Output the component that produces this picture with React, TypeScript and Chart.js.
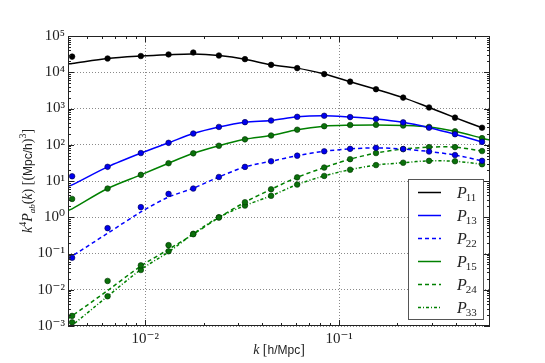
import { useEffect, useRef } from 'react';
import { Chart, registerables } from 'chart.js';

Chart.register(...registerables);

// ---- data (k in h/Mpc, values k^4 P(k)) ----
const kPoints = [0.0042, 0.0064, 0.0095, 0.0132, 0.0177, 0.024, 0.0327, 0.0446, 0.0608, 0.0838, 0.114, 0.155, 0.214, 0.291, 0.396, 0.546];
const p11Points = [27000, 24000, 28000, 31000, 35000, 29000, 23000, 16000, 13000, 8900, 5500, 3400, 2000, 1070, 560, 295];
const p13Points = [13.5, 24.6, 59, 113, 204, 310, 420, 465, 590, 630, 580, 515, 415, 295, 195, 120];
const p22Points = [0.076, 0.5, 1.9, 4.4, 6.2, 12.9, 24.5, 35, 50, 66, 77, 82, 76, 65, 52, 36];
const p15Points = [3.2, 6.2, 14.8, 31, 58, 94, 141, 180, 260, 325, 350, 355, 340, 310, 235, 152];
const p24Points = [0.0019, 0.0175, 0.047, 0.17, 0.34, 0.98, 2.6, 5.9, 12.6, 23.5, 40, 59, 76, 86, 86, 67];
const p33Points = [0.00126, 0.0066, 0.035, 0.115, 0.35, 1.0, 2.1, 3.9, 8.0, 13.8, 20.5, 27.5, 32, 36, 35, 29];

const kLine = [0.004, 0.0042, 0.0064, 0.0095, 0.0132, 0.0177, 0.024, 0.0327, 0.0446, 0.0608, 0.0838, 0.114, 0.155, 0.214, 0.291, 0.396, 0.546];
const kLineLong = [0.004, 0.0042, 0.0064, 0.0095, 0.0132, 0.0177, 0.024, 0.0327, 0.0446, 0.0608, 0.0838, 0.114, 0.155, 0.214, 0.291, 0.396, 0.546, 0.6];
const p11Line = [17000, 17500, 24000, 28000, 30500, 32000, 29000, 23000, 16000, 13000, 8900, 5500, 3400, 2000, 1070, 560, 295];
const p13Line = [7.2, 7.8, 24.6, 59, 113, 204, 310, 420, 470, 590, 630, 580, 515, 415, 295, 195, 120];
const p22Line = [0.074, 0.085, 0.36, 1.4, 3.6, 6.3, 12.9, 24.5, 35, 50, 66, 77, 82, 76, 65, 52, 36];
const p15Line = [1.55, 1.7, 6.2, 14.8, 31, 58, 94, 141, 180, 260, 325, 345, 352, 340, 310, 235, 152, 134];
const p24Line = [0.0016, 0.0019, 0.0095, 0.045, 0.13, 0.34, 0.98, 2.6, 5.9, 12.6, 23.5, 40, 59, 76, 86, 86, 67];
const p33Line = [0.00092, 0.00105, 0.0066, 0.036, 0.11, 0.35, 1.0, 2.1, 3.9, 8.0, 13.8, 20.5, 27.5, 32, 36, 35, 29];

const xTickValues = [0.01, 0.1];
const xTickLabels = ['10⁻²', '10⁻¹'];
const yTickValues = [1e-3, 1e-2, 1e-1, 1, 10, 100, 1e3, 1e4, 1e5];
const yTickLabels = ['10⁻³', '10⁻²', '10⁻¹', '10⁰', '10¹', '10²', '10³', '10⁴', '10⁵'];

const legendSubs = ['11', '13', '22', '15', '24', '33'];

// ---- styles ----
const BLACK = '#000000';
const BLUE = '#0000ff';
const GREEN = '#008000';
const DASH = [4, 3];
const DASHDOT = [3, 2, 1, 2];
const SERIF = '"Liberation Serif", "DejaVu Serif", serif';
const SANS = '"Liberation Sans", "DejaVu Sans", sans-serif';

const seriesStyles = [
  { color: BLACK, dash: [] as number[], fill: '#000000', edge: '#000000' },
  { color: BLUE, dash: [] as number[], fill: '#0000ee', edge: '#000044' },
  { color: BLUE, dash: DASH, fill: '#0000ee', edge: '#000044' },
  { color: GREEN, dash: [] as number[], fill: '#0a700a', edge: '#003300' },
  { color: GREEN, dash: DASH, fill: '#0a700a', edge: '#003300' },
  { color: GREEN, dash: DASHDOT, fill: '#0a700a', edge: '#003300' },
];

const pts = (ks: number[], vs: number[]) => vs.map((v, i) => ({ x: ks[i], y: v }));

type Seg = { t: string; f: string; dy: number };

function drawSegs(ctx: CanvasRenderingContext2D, segs: Seg[], cx: number, cy: number, rot: number) {
  ctx.save();
  ctx.translate(cx, cy);
  ctx.rotate(rot);
  let total = 0;
  for (const s of segs) {
    ctx.font = s.f;
    total += ctx.measureText(s.t).width;
  }
  let x = -total / 2;
  ctx.fillStyle = '#222';
  ctx.textBaseline = 'alphabetic';
  ctx.textAlign = 'left';
  for (const s of segs) {
    ctx.font = s.f;
    ctx.fillText(s.t, x, 5 + s.dy);
    x += ctx.measureText(s.t).width;
  }
  ctx.restore();
}

const framePlugin = {
  id: 'mplFrame',
  afterDraw(chart: any) {
    const { ctx, chartArea: a, scales } = chart;
    const xs = scales.x;
    const ys = scales.y;
    ctx.save();
    // frame
    ctx.strokeStyle = '#222';
    ctx.lineWidth = 1;
    ctx.setLineDash([]);
    ctx.strokeRect(a.left + 0.5, a.top + 0.5, a.right - a.left - 1, a.bottom - a.top - 1);
    // inside ticks
    ctx.beginPath();
    for (let n = -4; n <= 5; n++) {
      for (let m = 1; m <= 9; m++) {
        const v = m * Math.pow(10, n);
        const len = m === 1 ? 6 : 3;
        if (v >= xs.min && v <= xs.max) {
          const px = Math.round(xs.getPixelForValue(v)) + 0.5;
          ctx.moveTo(px, a.bottom);
          ctx.lineTo(px, a.bottom - len);
          ctx.moveTo(px, a.top);
          ctx.lineTo(px, a.top + len);
        }
        if (v >= ys.min && v <= ys.max) {
          const py = Math.round(ys.getPixelForValue(v)) + 0.5;
          ctx.moveTo(a.left, py);
          ctx.lineTo(a.left + len, py);
          ctx.moveTo(a.right, py);
          ctx.lineTo(a.right - len, py);
        }
      }
    }
    ctx.stroke();

    // legend
    const bx = 408, by = 179, bw = 75, bh = 140;
    ctx.fillStyle = '#ffffff';
    ctx.fillRect(bx, by, bw, bh);
    ctx.strokeStyle = '#555';
    ctx.lineWidth = 1;
    ctx.strokeRect(bx + 0.5, by + 0.5, bw, bh);
    legendSubs.forEach((sub, i) => {
      const st = seriesStyles[i];
      const y = 192.5 + i * 23;
      ctx.strokeStyle = st.color;
      ctx.lineWidth = 1.5;
      ctx.setLineDash(st.dash);
      ctx.beginPath();
      ctx.moveTo(418, y);
      ctx.lineTo(441, y);
      ctx.stroke();
      ctx.setLineDash([]);
      ctx.fillStyle = '#222';
      ctx.textAlign = 'left';
      ctx.textBaseline = 'alphabetic';
      ctx.font = `italic 16px ${SERIF}`;
      ctx.fillText('P', 457, y + 5);
      const w = ctx.measureText('P').width;
      ctx.font = `11px ${SERIF}`;
      ctx.fillText(sub, 457 + w - 1, y + 8);
    });

    // axis titles
    drawSegs(ctx, [
      { t: 'k', f: `italic 14px ${SERIF}`, dy: 0 },
      { t: ' [', f: `14px ${SERIF}`, dy: 0 },
      { t: 'h/Mpc', f: `12px ${SANS}`, dy: 0 },
      { t: ']', f: `14px ${SERIF}`, dy: 0 },
    ], (a.left + a.right) / 2, 349, 0);
    drawSegs(ctx, [
      { t: 'k', f: `italic 14px ${SERIF}`, dy: 0 },
      { t: '4', f: `10px ${SERIF}`, dy: -6 },
      { t: 'P', f: `italic 14px ${SERIF}`, dy: 0 },
      { t: 'ab', f: `italic 9px ${SERIF}`, dy: 3 },
      { t: '(', f: `14px ${SERIF}`, dy: 0 },
      { t: 'k', f: `italic 14px ${SERIF}`, dy: 0 },
      { t: ') [(', f: `14px ${SERIF}`, dy: 0 },
      { t: 'Mpc/h', f: `12px ${SANS}`, dy: 0 },
      { t: ')', f: `14px ${SERIF}`, dy: 0 },
      { t: '3', f: `10px ${SERIF}`, dy: -6 },
      { t: ']', f: `14px ${SERIF}`, dy: 0 },
    ], 27, (a.top + a.bottom) / 2, -Math.PI / 2);
    ctx.restore();
  },
};

export default function App() {
  const ref = useRef<HTMLCanvasElement | null>(null);

  useEffect(() => {
    if (!ref.current) return;
    const lineSets = [
      { label: 'P11', ks: kLine, vs: p11Line },
      { label: 'P13', ks: kLine, vs: p13Line },
      { label: 'P22', ks: kLine, vs: p22Line },
      { label: 'P15', ks: kLineLong, vs: p15Line },
      { label: 'P24', ks: kLine, vs: p24Line },
      { label: 'P33', ks: kLine, vs: p33Line },
    ];
    const pointSets = [p11Points, p13Points, p22Points, p15Points, p24Points, p33Points];

    const datasets: any[] = [];
    lineSets.forEach((s, i) => {
      datasets.push({
        label: s.label,
        data: pts(s.ks, s.vs),
        borderColor: seriesStyles[i].color,
        borderDash: seriesStyles[i].dash,
        borderWidth: 1.5,
        pointRadius: 0,
        fill: false,
        tension: 0.3,
        order: 2,
      });
    });
    pointSets.forEach((vs, i) => {
      datasets.push({
        label: lineSets[i].label + ' data',
        data: pts(kPoints, vs),
        showLine: false,
        pointRadius: 2.8,
        pointBackgroundColor: seriesStyles[i].fill,
        pointBorderColor: seriesStyles[i].edge,
        pointBorderWidth: 0.6,
        order: 1,
      });
    });

    const chart = new Chart(ref.current, {
      type: 'line',
      data: { datasets },
      options: {
        animation: false,
        responsive: false,
        devicePixelRatio: 1,
        layout: { padding: { left: 0, right: 55, top: 36, bottom: 0 } },
        plugins: {
          legend: { display: false },
          tooltip: { enabled: false },
        },
        scales: {
          x: {
            type: 'logarithmic',
            min: 0.004,
            max: 0.6,
            afterBuildTicks: (scale: any) => {
              scale.ticks = xTickValues.map((v) => ({ value: v, major: true }));
            },
            afterFit: (scale: any) => {
              scale.height = 37;
            },
            ticks: {
              callback: (_v: any, i: number) => xTickLabels[i],
              font: { family: SERIF, size: 15 },
              color: '#222',
              padding: 4,
              maxRotation: 0,
              autoSkip: false,
            },
            grid: { drawTicks: false, color: '#8a8a8a', lineWidth: 1 },
            border: { display: false, dash: [1, 2] },
          },
          y: {
            type: 'logarithmic',
            min: 1e-3,
            max: 1e5,
            afterBuildTicks: (scale: any) => {
              scale.ticks = yTickValues.map((v) => ({ value: v, major: true }));
            },
            afterFit: (scale: any) => {
              scale.width = 68;
            },
            ticks: {
              callback: (_v: any, i: number) => yTickLabels[i],
              font: { family: SERIF, size: 15 },
              color: '#222',
              padding: 3,
              autoSkip: false,
            },
            grid: { drawTicks: false, color: '#8a8a8a', lineWidth: 1 },
            border: { display: false, dash: [1, 2] },
          },
        },
      },
      plugins: [framePlugin],
    });
    return () => chart.destroy();
  }, []);

  return (
    <div style={{ position: 'fixed', left: 0, top: 0, width: 545, height: 363, background: '#fff' }}>
      <canvas ref={ref} width={545} height={363} style={{ width: 545, height: 363 }} />
    </div>
  );
}
